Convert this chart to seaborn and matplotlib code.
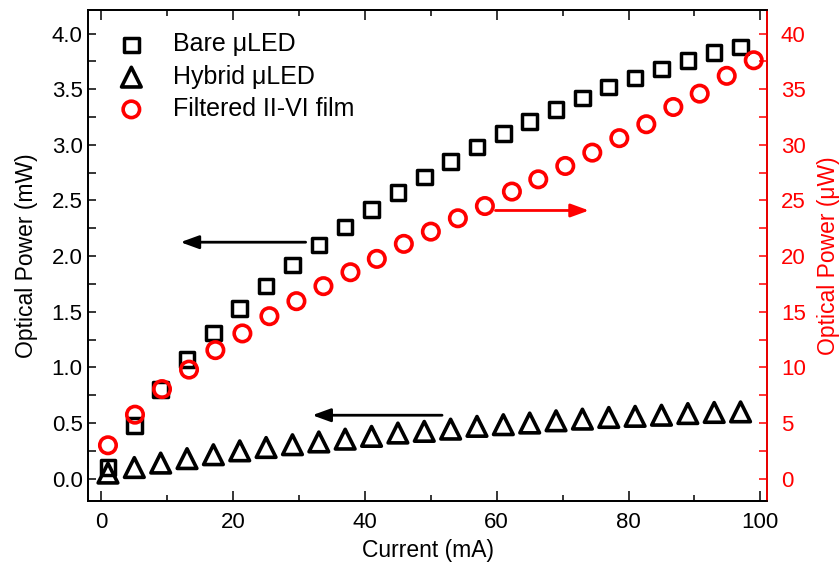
import matplotlib
matplotlib.use("Agg")
import matplotlib.pyplot as plt
from matplotlib.markers import MarkerStyle
from matplotlib.ticker import MultipleLocator
import pandas as pd
import seaborn as sns

# Drive current for the bare and hybrid devices (mA)
current_ma = [1, 5, 9, 13, 17, 21, 25, 29, 33, 37, 41, 45, 49,
              53, 57, 61, 65, 69, 73, 77, 81, 85, 89, 93, 97]
# Optical output power (mW)
bare_mw = [0.10, 0.48, 0.80, 1.07, 1.31, 1.53, 1.73, 1.92, 2.10, 2.26, 2.42, 2.57, 2.71,
           2.85, 2.98, 3.10, 3.21, 3.32, 3.42, 3.52, 3.60, 3.68, 3.76, 3.83, 3.88]
hybrid_mw = [0.05, 0.10, 0.14, 0.18, 0.215, 0.25, 0.28, 0.305, 0.33, 0.355, 0.38, 0.41, 0.425,
             0.445, 0.47, 0.485, 0.50, 0.52, 0.535, 0.55, 0.56, 0.57, 0.585, 0.595, 0.60]
# Filtered II-VI film: current (mA) and power (uW)
film_current_ma = [1.0, 5.1, 9.2, 13.3, 17.3, 21.4, 25.5, 29.6, 33.7, 37.8, 41.8, 45.9, 50.0,
                   54.1, 58.2, 62.3, 66.3, 70.4, 74.5, 78.6, 82.7, 86.8, 90.8, 94.9, 99.0]
film_uw = [3.0, 5.75, 8.05, 9.8, 11.55, 13.05, 14.6, 15.95, 17.3, 18.55, 19.75, 21.1, 22.2,
           23.4, 24.5, 25.8, 26.9, 28.1, 29.3, 30.6, 31.85, 33.4, 34.6, 36.2, 37.6]

x_ticks = [0, 20, 40, 60, 80, 100]
left_ticks = [0.0, 0.5, 1.0, 1.5, 2.0, 2.5, 3.0, 3.5, 4.0]
right_ticks = [0, 5, 10, 15, 20, 25, 30, 35, 40]

led = pd.DataFrame({"current": current_ma, "bare": bare_mw, "hybrid": hybrid_mw})
film = pd.DataFrame({"current": film_current_ma, "power": film_uw})

sns.set_theme(style="ticks")
plt.rcParams["font.family"] = ["Liberation Sans", "DejaVu Sans"]
plt.rcParams.update({"text.color": "black", "axes.labelcolor": "black",
                     "xtick.color": "black", "ytick.color": "black",
                     "axes.edgecolor": "black"})

RED = "#ff0000"
TICK_FS = 16
LABEL_FS = 16.5
LEGEND_FS = 18

fig = plt.figure(figsize=(8.4, 5.66), dpi=100)
ax = fig.add_axes([0.105, 0.115, 0.808, 0.867])
ax2 = ax.twinx()

sq = MarkerStyle("s", joinstyle="round")
tri = MarkerStyle("^", joinstyle="round")
circ = MarkerStyle("o")

sns.scatterplot(data=led, x="current", y="bare", ax=ax, marker=sq, s=110,
                facecolor="none", edgecolor="black", linewidth=2.5,
                label="Bare \u03bcLED", legend=False, zorder=3)
sns.scatterplot(data=led, x="current", y="hybrid", ax=ax, marker=tri, s=200,
                facecolor="none", edgecolor="black", linewidth=2.6,
                label="Hybrid \u03bcLED", legend=False, zorder=3)
sns.scatterplot(data=film, x="current", y="power", ax=ax2, marker=circ, s=140,
                facecolor="none", edgecolor=RED, linewidth=2.6,
                label="Filtered II-VI film", legend=False, zorder=3)

ax.set_xlim(-2, 101)
ax.set_ylim(-0.2, 4.21)
ax2.set_ylim(-2, 42.1)

ax.set_xticks(x_ticks)
ax.xaxis.set_minor_locator(MultipleLocator(10))
ax.set_yticks(left_ticks)
ax.set_yticklabels([f"{v:.1f}" for v in left_ticks])
ax.yaxis.set_minor_locator(MultipleLocator(0.25))
ax2.set_yticks(right_ticks)
ax2.yaxis.set_minor_locator(MultipleLocator(2.5))

ax.set_xlabel("Current (mA)", fontsize=LABEL_FS, labelpad=4)
ax.set_ylabel("Optical Power (mW)", fontsize=LABEL_FS, labelpad=10)
ax2.set_ylabel("Optical Power (\u03bcW)", fontsize=LABEL_FS, color=RED, labelpad=8)

for a in (ax, ax2):
    for s in a.spines.values():
        s.set_linewidth(1.3)
        s.set_color("black")
ax2.spines["right"].set_color(RED)

ax.tick_params(axis="x", which="both", direction="in", top=True, labelsize=TICK_FS,
               width=1.1, pad=8, colors="black")
ax.tick_params(axis="x", which="major", length=7)
ax.tick_params(axis="x", which="minor", length=4.5)
ax.tick_params(axis="y", which="both", direction="in", length=6, width=1.1,
               labelsize=TICK_FS, pad=4, colors="black")
ax2.tick_params(axis="y", which="both", direction="in", length=6, width=1.1,
                labelsize=TICK_FS, pad=10, colors=RED)

# Arrows showing which axis each data set belongs to
arrow_kw = dict(arrowstyle="-|>,head_length=0.55,head_width=0.2",
                lw=2.0, mutation_scale=20, shrinkA=0, shrinkB=0)
ax.annotate("", xy=(12, 2.125), xytext=(31, 2.125),
            arrowprops=dict(color="black", **arrow_kw))
ax.annotate("", xy=(32, 0.57), xytext=(51.7, 0.57),
            arrowprops=dict(color="black", **arrow_kw))
ax2.annotate("", xy=(74, 24.1), xytext=(59.8, 24.1),
             arrowprops=dict(color=RED, **arrow_kw))

handles = ax.collections[:2] + ax2.collections[:1]
labels = [h.get_label() for h in handles]
ax2.legend(handles, labels, loc="upper left", bbox_to_anchor=(0.012, 0.975),
           borderaxespad=0, frameon=False, fontsize=LEGEND_FS, scatterpoints=1,
           handlelength=2.0, handletextpad=0.65, labelspacing=0.33)

fig.savefig("out.png", dpi=100)
